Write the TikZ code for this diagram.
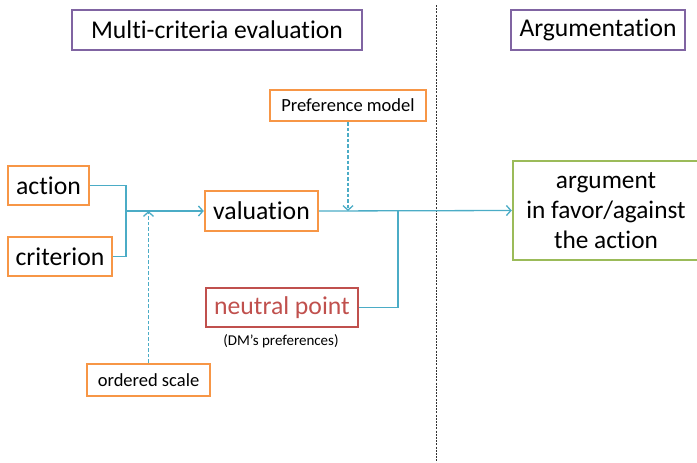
\documentclass[tikz,border=0pt]{standalone}
\usepackage{fontspec}
\setmainfont{Carlito}[Ligatures={NoCommon}]
\usetikzlibrary{arrows.meta}

\definecolor{boxorange}{RGB}{247,150,70}
\definecolor{boxpurple}{RGB}{128,100,162}
\definecolor{boxred}{RGB}{192,80,77}
\definecolor{boxgreen}{RGB}{155,187,89}
\definecolor{flowblue}{RGB}{75,172,198}

\tikzset{
  x=1pt, y=-1pt,
  basebox/.style={draw, rectangle, inner sep=0pt, align=center, text=black},
  titlebox/.style={basebox, draw=boxpurple, line width=1.8pt, font=\fontsize{25.6}{30}\selectfont},
  itembox/.style={basebox, draw=boxorange, line width=2.4pt, font=\fontsize{25.7}{30}\selectfont},
  smallbox/.style={basebox, draw=boxorange, line width=2.4pt, font=\fontsize{18.5}{22}\selectfont},
  pointbox/.style={basebox, draw=boxred, line width=2.4pt, text=boxred, font=\fontsize{25.7}{30}\selectfont},
  resultbox/.style={basebox, draw=boxgreen, line width=2.4pt, font=\fontsize{25.3}{30}\selectfont},
  flow/.style={draw=flowblue, line width=1.3pt},
  flowarrow/.style={flow, -{Straight Barb[length=4.5pt, width=10pt, line width=1.3pt]}},
  hint/.style={flowarrow, dash pattern=on 3.5pt off 2pt},
  divider/.style={draw=black!80, line width=0.9pt, dash pattern=on 2pt off 1.2pt},
}

\begin{document}
\begin{tikzpicture}
\useasboundingbox (0,0) rectangle (697,463);

% section headers
\node[titlebox, minimum width=290pt, minimum height=40pt] (mce) at (217,30) {Multi-criteria evaluation};
\node[titlebox, minimum width=174pt, minimum height=40pt] (argt) at (598,30) {Argumentation};

% separator between the two sections
\coordinate (sepTop) at (436,5);
\coordinate (sepBot) at (436,463);
\draw[divider] (sepTop) -- (sepBot);

% inputs
\node[itembox, minimum width=81pt, minimum height=39pt] (action) at (48.5,185.5) {action};
\node[itembox, minimum width=104pt, minimum height=39pt] (criterion) at (60,256.5) {criterion};
\node[itembox, minimum width=113pt, minimum height=40pt] (valuation) at (261.5,211) {valuation};
\node[smallbox, minimum width=156pt, minimum height=31pt] (pref) at (348,105.5) {Preference model};
\node[smallbox, minimum width=123pt, minimum height=32pt] (scale) at (148.5,380) {ordered scale};
\node[pointbox, minimum width=152pt, minimum height=39pt] (neutral) at (282,307.5) {neutral point};
\node[font=\fontsize{15}{18}\selectfont, text=black, inner sep=0pt] (dm) at (281,341) {(DM’s preferences)};

% result
\node[resultbox, minimum width=186pt, minimum height=99pt] (arg) at (606,210.5) {argument\\in favor/against\\the action};

% junctions
\coordinate (j1) at (126,211);
\coordinate (j2) at (398,211);

% connectors
\draw[flow] (action.east) -| (j1) |- (criterion.east);
\draw[flowarrow] (j1) -- (valuation.west);
\draw[hint] (scale.north) -- (scale.north |- j1);
\draw[hint] (pref.south) -- (pref.south |- valuation.east);
\draw[flowarrow] (valuation.east) -- (arg.west);
\draw[flow] (neutral.east) -| (j2);
\end{tikzpicture}
\end{document}
